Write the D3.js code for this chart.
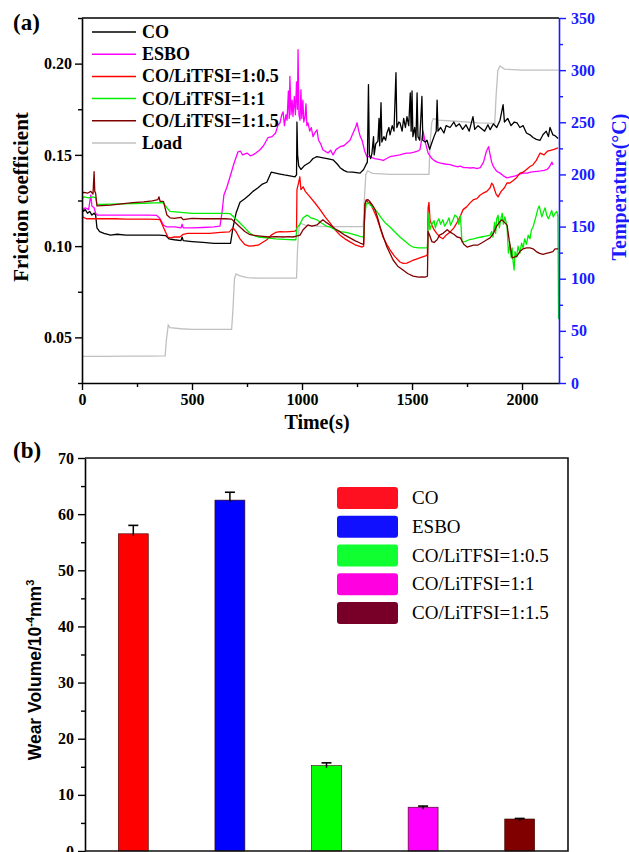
<!DOCTYPE html>
<html>
<head>
<meta charset="utf-8">
<script src="https://cdn.jsdelivr.net/npm/d3@7"></script>
<style>
html,body{margin:0;padding:0;background:#fff;}
svg{display:block;}
</style>
</head>
<body>
<svg id="chart" width="629" height="852"></svg>
<script>
// ---------- DATA: panel (a) friction coefficient vs time ----------
const seriesNames = ["CO", "ESBO", "CO/LiTFSI=1:0.5", "CO/LiTFSI=1:1", "CO/LiTFSI=1:1.5", "Load"];
const xTicksA = [0, 500, 1000, 1500, 2000];
const yTicksA = [0.05, 0.10, 0.15, 0.20];
const tTicksA = [0, 50, 100, 150, 200, 250, 300, 350];

const coData = [[0,0.121],[5,0.119],[15,0.120],[25,0.118],[35,0.119],[45,0.117],[55,0.118],[62,0.117],[68,0.110],[80,0.108],[100,0.107],[130,0.106],[160,0.1065],[200,0.106],[250,0.106],[300,0.106],[350,0.106],[380,0.1058],[395,0.104],[420,0.1035],[450,0.103],[455,0.105],[460,0.103],[500,0.1025],[550,0.102],[600,0.1015],[650,0.1015],[675,0.1015],[686,0.110],[700,0.118],[718,0.124],[740,0.126],[760,0.128],[777,0.130],[800,0.132],[820,0.134],[840,0.135],[860,0.1405],[880,0.140],[900,0.1395],[920,0.139],[945,0.1385],[968,0.138],[975,0.139],[977,0.168],[980,0.150],[985,0.144],[995,0.142],[1010,0.144],[1036,0.146],[1050,0.148],[1068,0.149],[1090,0.1485],[1114,0.148],[1141,0.1473],[1160,0.145],[1173,0.143],[1190,0.1415],[1205,0.1407],[1230,0.1405],[1264,0.140],[1280,0.142],[1290,0.1445],[1297,0.146],[1302,0.1885],[1306,0.150],[1312,0.148],[1318,0.151],[1325,0.160],[1328,0.150],[1335,0.156],[1345,0.1575],[1350,0.170],[1353,0.155],[1359,0.1786],[1363,0.157],[1372,0.160],[1380,0.158],[1386,0.162],[1395,0.165],[1400,0.161],[1410,0.166],[1418,0.163],[1427,0.195],[1431,0.165],[1440,0.168],[1445,0.1676],[1455,0.163],[1462,0.170],[1470,0.165],[1477,0.171],[1485,0.166],[1492,0.184],[1496,0.163],[1500,0.185],[1504,0.160],[1512,0.165],[1518,0.158],[1523,0.184],[1527,0.160],[1535,0.158],[1545,0.182],[1549,0.158],[1560,0.157],[1568,0.158],[1580,0.153],[1590,0.1566],[1600,0.160],[1610,0.163],[1614,0.180],[1618,0.163],[1630,0.165],[1645,0.162],[1655,0.166],[1673,0.165],[1690,0.168],[1700,0.1655],[1715,0.167],[1730,0.164],[1745,0.1665],[1760,0.163],[1777,0.171],[1785,0.164],[1800,0.166],[1815,0.1645],[1830,0.163],[1845,0.1665],[1855,0.1638],[1870,0.167],[1885,0.165],[1900,0.169],[1914,0.1775],[1920,0.168],[1935,0.170],[1950,0.166],[1965,0.168],[1977,0.1676],[1990,0.165],[2005,0.166],[2020,0.162],[2036,0.161],[2050,0.1595],[2065,0.1585],[2082,0.158],[2095,0.161],[2110,0.163],[2120,0.160],[2127,0.165],[2140,0.161],[2150,0.1605],[2164,0.159]];

const esboData = [[0,0.05],[3,0.120],[15,0.121],[30,0.120],[40,0.128],[45,0.122],[55,0.121],[62,0.118],[70,0.117],[100,0.117],[150,0.117],[200,0.117],[250,0.117],[300,0.117],[340,0.1168],[355,0.115],[370,0.1115],[386,0.1105],[420,0.1105],[450,0.110],[455,0.112],[460,0.110],[500,0.110],[550,0.1102],[600,0.1105],[627,0.111],[636,0.118],[645,0.128],[659,0.1325],[673,0.138],[690,0.145],[709,0.1517],[720,0.152],[730,0.150],[750,0.151],[765,0.1495],[777,0.150],[790,0.151],[809,0.1528],[825,0.155],[845,0.1594],[864,0.160],[880,0.162],[890,0.166],[900,0.1676],[908,0.172],[914,0.1736],[920,0.166],[927,0.172],[932,0.169],[938,0.185],[942,0.170],[945,0.193],[950,0.172],[955,0.180],[959,0.171],[965,0.182],[970,0.172],[975,0.190],[979,0.175],[982,0.2077],[986,0.172],[991,0.169],[995,0.1857],[999,0.170],[1004,0.180],[1008,0.168],[1014,0.171],[1018,0.178],[1022,0.166],[1027,0.1676],[1035,0.163],[1042,0.165],[1050,0.160],[1058,0.162],[1068,0.1637],[1075,0.158],[1085,0.156],[1095,0.1528],[1105,0.152],[1118,0.151],[1130,0.1525],[1141,0.150],[1155,0.153],[1173,0.1545],[1190,0.155],[1205,0.1566],[1218,0.158],[1232,0.162],[1243,0.165],[1250,0.1676],[1258,0.163],[1265,0.160],[1273,0.158],[1285,0.152],[1295,0.149],[1309,0.149],[1330,0.148],[1350,0.1475],[1370,0.147],[1385,0.148],[1400,0.149],[1420,0.1495],[1445,0.150],[1460,0.1505],[1475,0.151],[1491,0.151],[1510,0.1515],[1525,0.152],[1536,0.1528],[1543,0.158],[1550,0.1630],[1560,0.157],[1573,0.151],[1590,0.148],[1600,0.147],[1614,0.146],[1630,0.1455],[1650,0.145],[1673,0.1446],[1690,0.144],[1705,0.1435],[1720,0.1438],[1735,0.143],[1750,0.143],[1765,0.1428],[1780,0.143],[1795,0.1425],[1810,0.143],[1825,0.146],[1838,0.152],[1848,0.1545],[1855,0.150],[1862,0.146],[1870,0.1435],[1885,0.141],[1900,0.140],[1915,0.1385],[1932,0.1374],[1950,0.138],[1970,0.1385],[1990,0.1395],[2005,0.140],[2023,0.140],[2040,0.1405],[2055,0.1408],[2070,0.141],[2085,0.1412],[2100,0.1415],[2114,0.142],[2125,0.1435],[2136,0.146],[2140,0.1445]];

const ratio05Data = [[0,0.21],[2,0.116],[20,0.115],[60,0.115],[100,0.115],[150,0.115],[200,0.1148],[250,0.1148],[300,0.1148],[340,0.1147],[355,0.1145],[375,0.109],[390,0.105],[400,0.1045],[420,0.105],[445,0.105],[460,0.1065],[480,0.107],[530,0.107],[580,0.107],[630,0.1075],[670,0.1078],[686,0.110],[700,0.108],[718,0.104],[740,0.1008],[760,0.100],[780,0.1002],[800,0.1005],[820,0.102],[840,0.1035],[860,0.106],[880,0.1075],[900,0.108],[920,0.1078],[945,0.108],[968,0.1082],[975,0.109],[977,0.131],[985,0.135],[990,0.138],[995,0.131],[1005,0.1325],[1015,0.130],[1036,0.127],[1060,0.1235],[1082,0.120],[1105,0.116],[1127,0.1127],[1150,0.109],[1173,0.106],[1195,0.104],[1218,0.1023],[1245,0.1005],[1273,0.0995],[1280,0.100],[1286,0.123],[1292,0.1255],[1300,0.124],[1309,0.1237],[1320,0.121],[1340,0.1155],[1355,0.110],[1368,0.105],[1385,0.101],[1400,0.098],[1420,0.0945],[1445,0.0913],[1460,0.0905],[1477,0.0907],[1500,0.092],[1523,0.093],[1545,0.094],[1565,0.0948],[1570,0.0955],[1573,0.121],[1577,0.124],[1582,0.114],[1590,0.1116],[1600,0.109],[1612,0.107],[1627,0.105],[1640,0.104],[1655,0.106],[1673,0.1077],[1690,0.110],[1705,0.113],[1718,0.116],[1732,0.120],[1748,0.1215],[1764,0.1237],[1780,0.1255],[1795,0.126],[1810,0.128],[1823,0.129],[1840,0.130],[1855,0.132],[1862,0.1345],[1868,0.1336],[1875,0.131],[1882,0.1285],[1891,0.127],[1905,0.130],[1920,0.132],[1932,0.1347],[1945,0.1346],[1960,0.136],[1975,0.1375],[1991,0.140],[2005,0.1405],[2020,0.142],[2035,0.1435],[2050,0.1446],[2065,0.147],[2082,0.151],[2100,0.150],[2115,0.152],[2130,0.1525],[2145,0.153],[2164,0.1538]];

const ratio1Data = [[0,0.126],[10,0.127],[30,0.1265],[50,0.127],[62,0.1265],[68,0.123],[90,0.1228],[130,0.123],[180,0.1232],[230,0.1233],[280,0.1235],[330,0.1237],[370,0.1238],[386,0.121],[400,0.119],[450,0.1185],[500,0.118],[550,0.118],[600,0.118],[650,0.118],[673,0.1178],[690,0.116],[718,0.1127],[740,0.110],[760,0.1075],[777,0.106],[800,0.105],[840,0.1045],[880,0.104],[920,0.1037],[959,0.1035],[972,0.1035],[977,0.110],[990,0.112],[1005,0.1155],[1023,0.117],[1040,0.1155],[1055,0.115],[1068,0.1144],[1090,0.1125],[1110,0.111],[1127,0.1105],[1150,0.109],[1175,0.108],[1200,0.1075],[1218,0.107],[1245,0.106],[1273,0.105],[1280,0.1055],[1286,0.118],[1292,0.123],[1300,0.1237],[1315,0.122],[1340,0.119],[1360,0.1155],[1380,0.1125],[1400,0.1105],[1420,0.108],[1445,0.105],[1470,0.1025],[1490,0.1005],[1505,0.0995],[1530,0.099],[1559,0.099],[1570,0.0992],[1573,0.1105],[1577,0.118],[1581,0.109],[1590,0.112],[1600,0.114],[1606,0.110],[1614,0.1133],[1622,0.115],[1630,0.112],[1640,0.1145],[1648,0.111],[1659,0.113],[1668,0.1155],[1675,0.1115],[1685,0.114],[1695,0.117],[1705,0.116],[1712,0.112],[1720,0.1165],[1727,0.1023],[1740,0.1025],[1760,0.1035],[1780,0.104],[1795,0.1045],[1815,0.105],[1835,0.1055],[1855,0.106],[1862,0.108],[1868,0.105],[1875,0.113],[1880,0.107],[1885,0.115],[1891,0.117],[1897,0.110],[1903,0.1145],[1910,0.118],[1915,0.112],[1922,0.116],[1932,0.1105],[1938,0.0962],[1945,0.101],[1950,0.094],[1955,0.099],[1959,0.092],[1964,0.0869],[1968,0.097],[1975,0.094],[1982,0.100],[1990,0.096],[1998,0.1017],[2005,0.099],[2012,0.104],[2020,0.101],[2028,0.106],[2036,0.104],[2043,0.109],[2050,0.1105],[2058,0.114],[2065,0.117],[2072,0.1205],[2078,0.122],[2084,0.119],[2090,0.116],[2098,0.119],[2105,0.121],[2112,0.117],[2120,0.115],[2127,0.117],[2135,0.1195],[2142,0.116],[2150,0.118],[2158,0.119],[2163,0.1165],[2166,0.060]];

const ratio15Data = [[0,0.129],[10,0.1295],[25,0.129],[40,0.130],[50,0.1285],[55,0.1408],[58,0.130],[62,0.129],[68,0.122],[90,0.1222],[130,0.1225],[180,0.1232],[230,0.1238],[280,0.1242],[320,0.1248],[345,0.1255],[350,0.127],[355,0.1245],[370,0.1245],[386,0.117],[400,0.1155],[420,0.1152],[450,0.1158],[460,0.1145],[500,0.1152],[550,0.115],[600,0.115],[650,0.115],[680,0.1148],[700,0.1125],[718,0.1105],[740,0.108],[760,0.1065],[777,0.106],[810,0.1055],[850,0.105],[880,0.1052],[914,0.105],[940,0.1052],[959,0.105],[975,0.1055],[991,0.106],[1005,0.109],[1027,0.1116],[1045,0.111],[1068,0.1116],[1085,0.1135],[1095,0.1144],[1110,0.113],[1127,0.1116],[1150,0.1095],[1173,0.1078],[1195,0.106],[1218,0.1045],[1240,0.103],[1264,0.1017],[1280,0.101],[1286,0.123],[1292,0.125],[1300,0.1255],[1309,0.1243],[1320,0.1225],[1332,0.120],[1345,0.115],[1355,0.1105],[1370,0.105],[1386,0.0995],[1400,0.096],[1414,0.0924],[1435,0.089],[1459,0.0869],[1480,0.085],[1505,0.0836],[1530,0.083],[1545,0.0832],[1559,0.083],[1570,0.0835],[1573,0.108],[1580,0.106],[1590,0.1025],[1600,0.102],[1614,0.1035],[1625,0.106],[1641,0.107],[1660,0.109],[1675,0.1075],[1690,0.1065],[1705,0.105],[1720,0.1045],[1735,0.101],[1750,0.0995],[1765,0.1],[1780,0.1005],[1800,0.1006],[1820,0.102],[1840,0.1035],[1855,0.1045],[1870,0.107],[1885,0.111],[1900,0.1135],[1909,0.1144],[1920,0.113],[1932,0.1115],[1942,0.103],[1955,0.0935],[1965,0.094],[1977,0.0945],[1990,0.097],[2005,0.0985],[2020,0.099],[2036,0.099],[2050,0.0985],[2065,0.097],[2080,0.096],[2095,0.0955],[2110,0.096],[2125,0.0965],[2140,0.097],[2150,0.0985],[2164,0.0985]];

// Load trace, read against the right-hand (temperature) scale
const loadData = [[0,25.5],[100,25.5],[200,25.7],[300,25.8],[378,26],[383,40],[392,55.5],[400,53],[450,52],[500,51.5],[600,51.5],[680,51.5],[686,70],[693,100],[700,104.5],[715,103],[750,101],[800,100.5],[900,100.5],[975,100.5],[980,130],[987,150],[995,153],[1020,151],[1100,150],[1200,150],[1278,150],[1283,175],[1290,200],[1298,203.5],[1320,201],[1400,200],[1500,200],[1577,200],[1582,230],[1590,250],[1597,253.5],[1620,252],[1700,251],[1800,249.5],[1876,249],[1882,275],[1890,300],[1900,304],[1920,301],[2000,300],[2100,300],[2166,300]];

// ---------- DATA: panel (b) wear volume ----------
const wearCategories = ["CO", "ESBO", "CO/LiTFSI=1:0.5", "CO/LiTFSI=1:1", "CO/LiTFSI=1:1.5"];
const wearValues = [56.5, 62.5, 15.2, 7.8, 5.7];
const wearErrors = [1.5, 1.4, 0.5, 0.2, 0.1];
const yTicksB = [0, 10, 20, 30, 40, 50, 60, 70];

// ---------- STYLE ----------
const lineColors = ["#000000", "#ff00ff", "#ff0000", "#00ee00", "#800000", "#c0c0c0"];
const barColors = ["#ff0000", "#0000ff", "#00ff00", "#ff00ff", "#800000"];
const swatchColors = ["#ff1020", "#1010ff", "#10ff30", "#ff00e0", "#780028"];
const SERIF = "'Liberation Serif','Times New Roman',serif";
const SANS = "'Liberation Sans',Arial,sans-serif";
const BLUE = "#1a1aff";

const svg = d3.select("#chart");

// ================= PANEL (a) =================
const L = 82, R = 559, T = 18, B = 383;
const x = d3.scaleLinear().domain([0, 2168]).range([L, R]);
const y = d3.scaleLinear().domain([0.025, 0.225]).range([B, T]);
const yT = d3.scaleLinear().domain([0, 350]).range([B, T]);

const gA = svg.append("g");
const lineF = d3.line().x(d => x(d[0])).y(d => y(d[1]));
const lineT = d3.line().x(d => x(d[0])).y(d => yT(d[1]));

const clip = svg.append("defs").append("clipPath").attr("id", "clipA")
  .append("rect").attr("x", L).attr("y", T - 2).attr("width", R - L + 2).attr("height", B - T + 2);

const plotG = gA.append("g").attr("clip-path", "url(#clipA)");
plotG.append("path").datum(loadData).attr("d", lineT)
  .attr("fill", "none").attr("stroke", lineColors[5]).attr("stroke-width", 1.3);
const drawOrder = [[esboData,1],[coData,0],[ratio05Data,2],[ratio1Data,3],[ratio15Data,4]];
drawOrder.forEach(([data, ci]) => {
  plotG.append("path").datum(data).attr("d", lineF)
    .attr("fill", "none").attr("stroke", lineColors[ci])
    .attr("stroke-width", 1.3).attr("stroke-linejoin", "round");
});

// axes
function styleAxis(g, color, fsize) {
  g.selectAll("path").attr("stroke", color).attr("stroke-width", 1.6);
  g.selectAll("line").attr("stroke", color).attr("stroke-width", 1.4);
  g.selectAll("text").attr("fill", color).style("font-family", SERIF)
    .style("font-weight", "bold").style("font-size", fsize + "px");
}

const xAx = gA.append("g").attr("transform", `translate(0,${B})`)
  .call(d3.axisBottom(x).tickValues(xTicksA).tickSize(7).tickSizeOuter(0).tickPadding(4).tickFormat(d3.format("d")));
styleAxis(xAx, "#000", 16);
const xMin = gA.append("g").attr("transform", `translate(0,${B})`)
  .call(d3.axisBottom(x).tickValues(xTicksA.map(v => v + 250).filter(v => v < 2168)).tickSize(4).tickFormat(""));
xMin.select("path").remove();
styleAxis(xMin, "#000", 16);

const yAx = gA.append("g").attr("transform", `translate(${L},0)`)
  .call(d3.axisLeft(y).tickValues(yTicksA).tickSize(7).tickSizeOuter(0).tickPadding(3).tickFormat(d3.format(".2f")));
styleAxis(yAx, "#000", 16);
const yMin = gA.append("g").attr("transform", `translate(${L},0)`)
  .call(d3.axisLeft(y).tickValues(yTicksA.map(v => v - 0.025).concat([0.225])).tickSize(4).tickFormat(""));
yMin.select("path").remove();
styleAxis(yMin, "#000", 16);

const tAx = gA.append("g").attr("transform", `translate(${R},0)`)
  .call(d3.axisRight(yT).tickValues(tTicksA).tickSize(7).tickSizeOuter(0).tickPadding(5).tickFormat(d3.format("d")));
styleAxis(tAx, BLUE, 16);
const tMin = gA.append("g").attr("transform", `translate(${R},0)`)
  .call(d3.axisRight(yT).tickValues(tTicksA.slice(0, -1).map(v => v + 25)).tickSize(4).tickFormat(""));
tMin.select("path").remove();
styleAxis(tMin, BLUE, 16);

// top frame
gA.append("line").attr("x1", L).attr("x2", R).attr("y1", T).attr("y2", T)
  .attr("stroke", "#000").attr("stroke-width", 1.6);

// labels
gA.append("text").attr("x", 13).attr("y", 30).text("(a)")
  .style("font-family", SERIF).style("font-weight", "bold").style("font-size", "23px");
gA.append("text").attr("transform", "translate(28,197) rotate(-90)").attr("text-anchor", "middle")
  .text("Friction coefficient")
  .style("font-family", SERIF).style("font-weight", "bold").style("font-size", "21px");
gA.append("text").attr("transform", "translate(626,187) rotate(-90)").attr("text-anchor", "middle")
  .attr("fill", BLUE).text("Temperature(°C)")
  .style("font-family", SERIF).style("font-weight", "bold").style("font-size", "20px");
gA.append("text").attr("x", 317).attr("y", 429).attr("text-anchor", "middle").text("Time(s)")
  .style("font-family", SERIF).style("font-weight", "bold").style("font-size", "20px");

// legend (a)
const legA = gA.append("g");
seriesNames.forEach((name, i) => {
  const cy = 32 + i * 22.2;
  legA.append("line").attr("x1", 92).attr("x2", 136).attr("y1", cy).attr("y2", cy)
    .attr("stroke", lineColors[i]).attr("stroke-width", 1.5);
  legA.append("text").attr("x", 142).attr("y", cy + 6).text(name)
    .style("font-family", SERIF).style("font-weight", "bold").style("font-size", "18px");
});

// ================= PANEL (b) =================
const L2 = 85, R2 = 568, T2 = 458, B2 = 851;
const xb = d3.scaleBand().domain(wearCategories).range([L2, R2]).paddingInner(0.69).paddingOuter(0.345);
const yb = d3.scaleLinear().domain([0, 70]).range([B2, T2]);
const gB = svg.append("g");

gB.selectAll("rect.bar").data(wearCategories).enter().append("rect")
  .attr("class", "bar")
  .attr("x", d => xb(d)).attr("width", xb.bandwidth())
  .attr("y", (d, i) => yb(wearValues[i])).attr("height", (d, i) => B2 - yb(wearValues[i]))
  .attr("fill", (d, i) => barColors[i]).attr("stroke", "#3a0000").attr("stroke-width", 0.6);

// error bars (upper half)
wearCategories.forEach((c, i) => {
  const cx = xb(c) + xb.bandwidth() / 2;
  const yTop = yb(wearValues[i] + wearErrors[i]);
  gB.append("line").attr("x1", cx).attr("x2", cx).attr("y1", yTop).attr("y2", yb(wearValues[i]) + 2)
    .attr("stroke", "#000").attr("stroke-width", 1.5);
  gB.append("line").attr("x1", cx - 5).attr("x2", cx + 5).attr("y1", yTop).attr("y2", yTop)
    .attr("stroke", "#000").attr("stroke-width", 1.6);
});

const yAxB = gB.append("g").attr("transform", `translate(${L2},0)`)
  .call(d3.axisLeft(yb).tickValues(yTicksB).tickSize(7).tickSizeOuter(0).tickPadding(4).tickFormat(d3.format("d")));
styleAxis(yAxB, "#000", 16);
const yMinB = gB.append("g").attr("transform", `translate(${L2},0)`)
  .call(d3.axisLeft(yb).tickValues(yTicksB.slice(0, -1).map(v => v + 5)).tickSize(4).tickFormat(""));
yMinB.select("path").remove();
styleAxis(yMinB, "#000", 16);

// frame
gB.append("path").attr("d", `M${L2},${T2}H${R2}V${B2}H${L2}`)
  .attr("fill", "none").attr("stroke", "#111").attr("stroke-width", 1.6);

gB.append("text").attr("x", 13).attr("y", 458).text("(b)")
  .style("font-family", SERIF).style("font-weight", "bold").style("font-size", "23px");

const yl = gB.append("text").attr("transform", "translate(41,670) rotate(-90)").attr("text-anchor", "middle")
  .style("font-family", SANS).style("font-weight", "bold").style("font-size", "17.5px");
yl.append("tspan").text("Wear Volume/10");
yl.append("tspan").attr("dy", -7).style("font-size", "11px").text("-4");
yl.append("tspan").attr("dy", 7).text("mm");
yl.append("tspan").attr("dy", -7).style("font-size", "11px").text("3");

// legend (b)
wearCategories.forEach((c, i) => {
  const cy = 498 + i * 28.75;
  gB.append("rect").attr("x", 337).attr("y", cy - 11).attr("width", 61).attr("height", 22)
    .attr("rx", 3).attr("fill", swatchColors[i]);
  gB.append("text").attr("x", 412).attr("y", cy + 6).text(c)
    .style("font-family", SERIF).style("font-size", "19px");
});
</script>
</body>
</html>
